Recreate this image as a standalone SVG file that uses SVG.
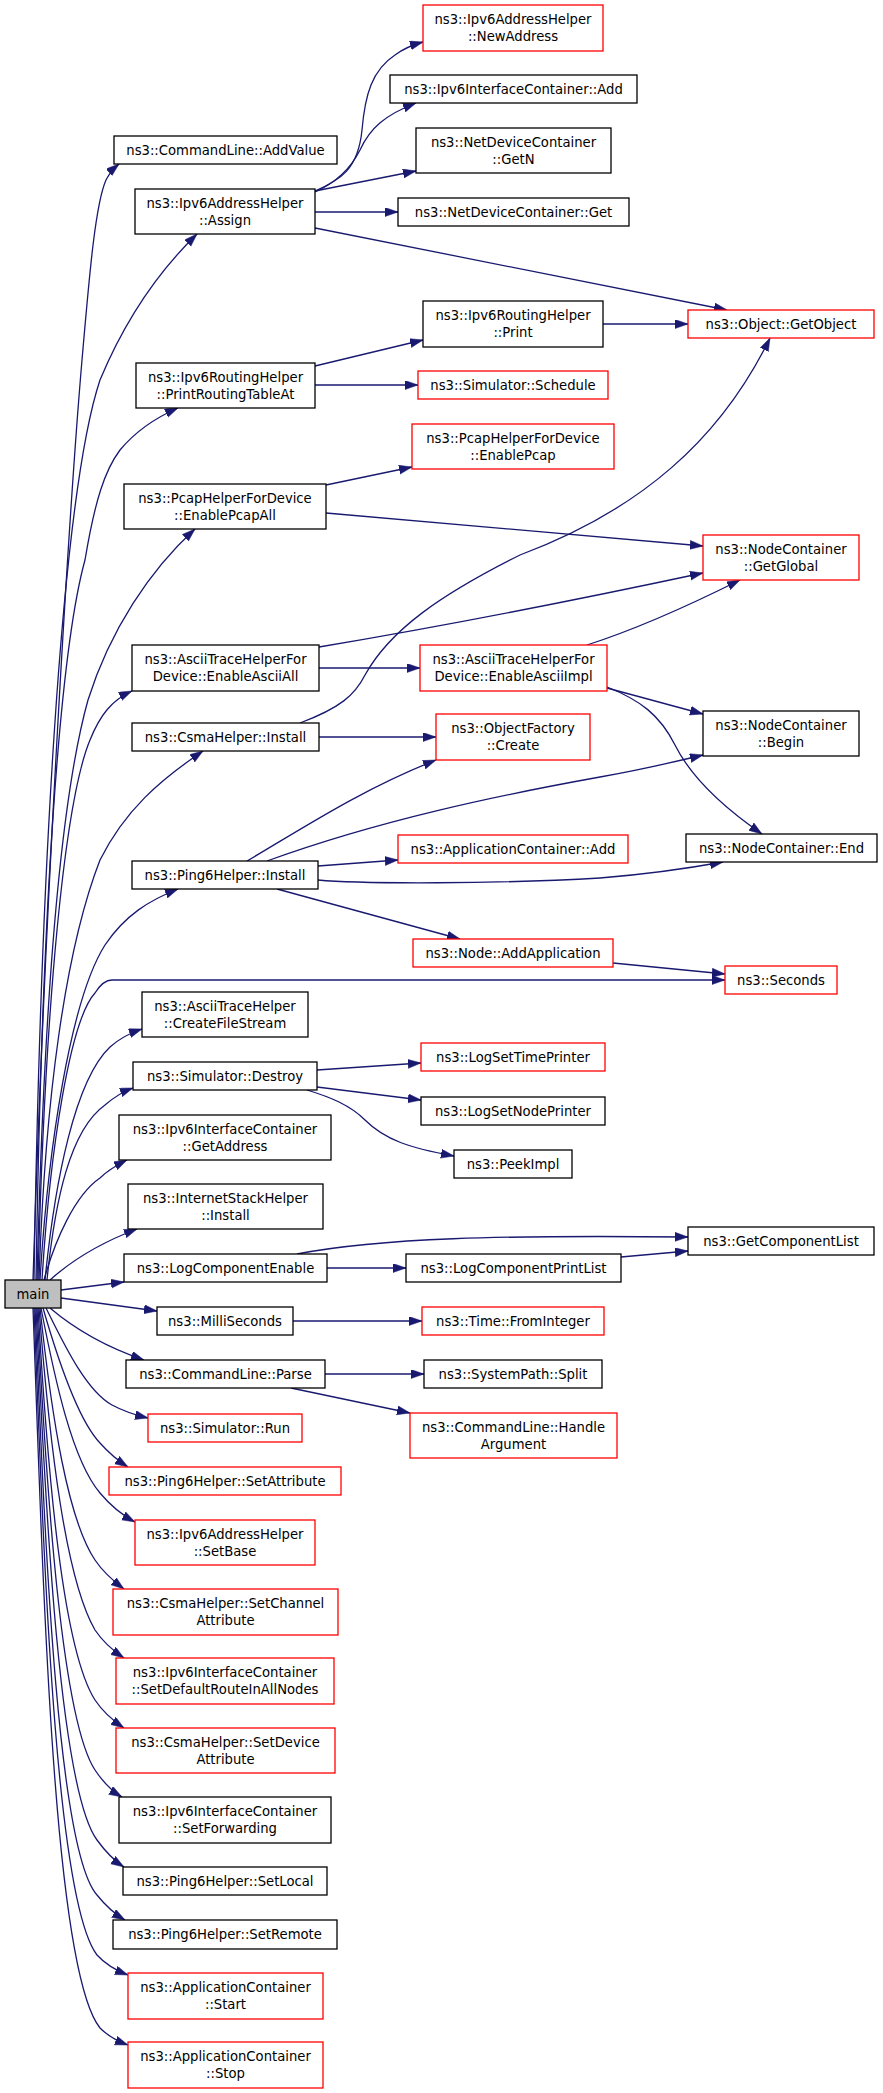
<svg xmlns="http://www.w3.org/2000/svg" width="883" height="2093" viewBox="0 0 883 2093">
<style>
.n rect{fill:#fff;stroke:#000;stroke-width:1.3}
.n.r rect{stroke:#ff0000}
.n.m rect{fill:#bfbfbf}
text{font-family:"DejaVu Sans","Liberation Sans",sans-serif;font-size:13.2px;text-anchor:middle;fill:#000}
#edges path{fill:none;stroke:#191970;stroke-width:1.3;marker-end:url(#ah)}
</style>
<defs>
<marker id="ah" markerUnits="userSpaceOnUse" markerWidth="14" markerHeight="10" refX="13" refY="4.5" orient="auto">
<path d="M0,0 L13,4.5 L0,9 z" fill="#191970" stroke="#191970" stroke-width="0.5"/>
</marker>
</defs>
<rect width="883" height="2093" fill="#fff"/>
<g id="edges">
<path d="M33,1280 C45,900 70,500 82,360 C89,280 95,205 106,180 C109,174 113,169 119,164"/>
<path d="M34,1280 C40,900 60,500 100,380 C125,320 160,270 197,234"/>
<path d="M36,1280 C42,900 60,650 85,560 C95,500 105,470 120,450 C135,432 155,418 178,408"/>
<path d="M37,1280 C44,1000 60,800 88,700 C110,630 150,570 195,529"/>
<path d="M38,1280 C45,1000 65,800 90,740 C100,715 112,700 132,691"/>
<path d="M39,1280 C45,1100 65,950 100,860 C125,810 160,780 203,751"/>
<path d="M40,1280 C48,1150 70,1000 105,945 C125,915 150,900 178,889"/>
<path d="M42,1280 C50,1150 70,1020 95,993 C100,985 105,980 112,980 L725,980"/>
<path d="M45,1280 C55,1180 75,1080 110,1047 C120,1038 130,1033 142,1029"/>
<path d="M47,1280 C55,1200 70,1130 105,1105 C113,1098 122,1092 133,1088"/>
<path d="M44,1280 C55,1240 75,1195 100,1178 C108,1170 117,1165 127,1160"/>
<path d="M50,1280 C70,1262 100,1243 137,1229"/>
<path d="M61,1290 L124,1282"/>
<path d="M61,1298 L157,1311"/>
<path d="M50,1308 C70,1325 100,1345 144,1360"/>
<path d="M46,1308 C62,1340 85,1390 112,1405 C125,1412 135,1415 148,1418"/>
<path d="M43,1308 C58,1360 78,1420 100,1443 C108,1452 117,1460 128,1467"/>
<path d="M41,1308 C55,1380 72,1460 100,1493 C110,1505 120,1514 135,1522"/>
<path d="M40,1308 C52,1420 68,1520 95,1560 C103,1572 112,1580 124,1589"/>
<path d="M39,1308 C50,1450 66,1580 95,1630 C103,1642 112,1650 124,1658"/>
<path d="M38,1308 C48,1480 63,1650 95,1700 C103,1712 112,1720 124,1728"/>
<path d="M37,1308 C47,1500 62,1720 95,1770 C103,1782 110,1790 122,1797"/>
<path d="M36,1308 C46,1520 60,1790 97,1840 C105,1851 113,1860 124,1867"/>
<path d="M35,1308 C45,1540 57,1850 97,1895 C105,1905 113,1913 125,1920"/>
<path d="M34,1308 C44,1560 55,1900 97,1955 C106,1965 115,1970 128,1975"/>
<path d="M33,1308 C43,1580 53,1970 100,2028 C108,2036 117,2041 128,2045"/>
<path d="M315,191 C340,180 358,170 362,130 C365,95 372,70 395,55 C403,49 412,45 423,42"/>
<path d="M315,192 C335,183 350,170 360,150 C370,128 385,115 416,103"/>
<path d="M315,191 L416,171"/>
<path d="M315,212 L398,212"/>
<path d="M315,228 L727,310"/>
<path d="M603,324 L688,324"/>
<path d="M315,366 L423,340"/>
<path d="M315,385 L418,385"/>
<path d="M326,485 L412,467"/>
<path d="M326,513 L703,546"/>
<path d="M319,647 C450,625 600,595 703,573"/>
<path d="M319,668 L420,668"/>
<path d="M587,645 C640,628 700,600 740,580"/>
<path d="M607,688 L703,714"/>
<path d="M607,687 C640,700 660,715 675,745 C690,775 720,805 762,834"/>
<path d="M300,723 C340,708 355,695 365,675 C390,630 440,595 520,555 C640,510 720,440 770,338"/>
<path d="M319,737 L436,737"/>
<path d="M247,861 C300,830 360,790 436,760"/>
<path d="M267,861 C380,820 500,795 600,777 C640,770 670,763 703,755"/>
<path d="M318,866 L398,860"/>
<path d="M318,880 C360,884 500,884 600,878 C650,874 690,868 723,862"/>
<path d="M277,889 L460,939"/>
<path d="M613,963 L725,974"/>
<path d="M317,1070 L421,1063"/>
<path d="M317,1087 L421,1100"/>
<path d="M307,1090 C330,1097 350,1105 365,1120 C385,1140 410,1148 454,1156"/>
<path d="M297,1254 C380,1238 500,1235 688,1237"/>
<path d="M327,1268 L406,1268"/>
<path d="M621,1257 L688,1251"/>
<path d="M293,1321 L422,1321"/>
<path d="M325,1374 L424,1374"/>
<path d="M291,1388 L410,1413"/>
</g>
<g id="main" class="n m"><rect x="5" y="1280" width="56" height="28"/><text x="33" y="1298.5">main</text></g>
<g id="addvalue" class="n"><rect x="114" y="136" width="223" height="28"/><text x="225.5" y="154.5">ns3::CommandLine::AddValue</text></g>
<g id="assign" class="n"><rect x="135" y="189" width="180" height="45"/><text x="225" y="207.5">ns3::Ipv6AddressHelper</text><text x="225" y="224.5">::Assign</text></g>
<g id="newaddress" class="n r"><rect x="423" y="5" width="180" height="46"/><text x="513" y="24">ns3::Ipv6AddressHelper</text><text x="513" y="41">::NewAddress</text></g>
<g id="ifadd" class="n"><rect x="390" y="75" width="247" height="28"/><text x="513.5" y="93.5">ns3::Ipv6InterfaceContainer::Add</text></g>
<g id="getn" class="n"><rect x="416" y="128" width="195" height="45"/><text x="513.5" y="146.5">ns3::NetDeviceContainer</text><text x="513.5" y="163.5">::GetN</text></g>
<g id="get" class="n"><rect x="398" y="198" width="231" height="28"/><text x="513.5" y="216.5">ns3::NetDeviceContainer::Get</text></g>
<g id="print" class="n"><rect x="423" y="301" width="180" height="46"/><text x="513" y="320">ns3::Ipv6RoutingHelper</text><text x="513" y="337">::Print</text></g>
<g id="getobject" class="n r"><rect x="688" y="310" width="186" height="28"/><text x="781" y="328.5">ns3::Object::GetObject</text></g>
<g id="printrt" class="n"><rect x="136" y="363" width="179" height="45"/><text x="225.5" y="381.5">ns3::Ipv6RoutingHelper</text><text x="225.5" y="398.5">::PrintRoutingTableAt</text></g>
<g id="schedule" class="n r"><rect x="418" y="371" width="190" height="28"/><text x="513" y="389.5">ns3::Simulator::Schedule</text></g>
<g id="enablepcap" class="n r"><rect x="412" y="424" width="202" height="45"/><text x="513" y="442.5">ns3::PcapHelperForDevice</text><text x="513" y="459.5">::EnablePcap</text></g>
<g id="enablepcapall" class="n"><rect x="124" y="484" width="202" height="45"/><text x="225" y="502.5">ns3::PcapHelperForDevice</text><text x="225" y="519.5">::EnablePcapAll</text></g>
<g id="getglobal" class="n r"><rect x="703" y="535" width="156" height="45"/><text x="781" y="553.5">ns3::NodeContainer</text><text x="781" y="570.5">::GetGlobal</text></g>
<g id="asciiall" class="n"><rect x="132" y="645" width="187" height="46"/><text x="225.5" y="664">ns3::AsciiTraceHelperFor</text><text x="225.5" y="681">Device::EnableAsciiAll</text></g>
<g id="asciiimpl" class="n r"><rect x="420" y="645" width="187" height="46"/><text x="513.5" y="664">ns3::AsciiTraceHelperFor</text><text x="513.5" y="681">Device::EnableAsciiImpl</text></g>
<g id="csmainstall" class="n"><rect x="132" y="723" width="187" height="28"/><text x="225.5" y="741.5">ns3::CsmaHelper::Install</text></g>
<g id="create" class="n r"><rect x="436" y="714" width="154" height="46"/><text x="513" y="733">ns3::ObjectFactory</text><text x="513" y="750">::Create</text></g>
<g id="begin" class="n"><rect x="703" y="711" width="156" height="45"/><text x="781" y="729.5">ns3::NodeContainer</text><text x="781" y="746.5">::Begin</text></g>
<g id="ping6install" class="n"><rect x="132" y="861" width="186" height="28"/><text x="225" y="879.5">ns3::Ping6Helper::Install</text></g>
<g id="appadd" class="n r"><rect x="398" y="835" width="230" height="28"/><text x="513" y="853.5">ns3::ApplicationContainer::Add</text></g>
<g id="end" class="n"><rect x="686" y="834" width="191" height="28"/><text x="781.5" y="852.5">ns3::NodeContainer::End</text></g>
<g id="addapp" class="n r"><rect x="413" y="939" width="200" height="28"/><text x="513" y="957.5">ns3::Node::AddApplication</text></g>
<g id="seconds" class="n r"><rect x="725" y="966" width="112" height="28"/><text x="781" y="984.5">ns3::Seconds</text></g>
<g id="createfilestream" class="n"><rect x="142" y="992" width="166" height="45"/><text x="225" y="1010.5">ns3::AsciiTraceHelper</text><text x="225" y="1027.5">::CreateFileStream</text></g>
<g id="destroy" class="n"><rect x="133" y="1062" width="184" height="28"/><text x="225" y="1080.5">ns3::Simulator::Destroy</text></g>
<g id="timeprinter" class="n r"><rect x="421" y="1043" width="184" height="28"/><text x="513" y="1061.5">ns3::LogSetTimePrinter</text></g>
<g id="nodeprinter" class="n"><rect x="421" y="1097" width="184" height="28"/><text x="513" y="1115.5">ns3::LogSetNodePrinter</text></g>
<g id="peekimpl" class="n"><rect x="454" y="1150" width="118" height="28"/><text x="513" y="1168.5">ns3::PeekImpl</text></g>
<g id="getaddress" class="n"><rect x="119" y="1115" width="212" height="45"/><text x="225" y="1133.5">ns3::Ipv6InterfaceContainer</text><text x="225" y="1150.5">::GetAddress</text></g>
<g id="internetstack" class="n"><rect x="128" y="1184" width="195" height="45"/><text x="225.5" y="1202.5">ns3::InternetStackHelper</text><text x="225.5" y="1219.5">::Install</text></g>
<g id="logenable" class="n"><rect x="124" y="1254" width="203" height="28"/><text x="225.5" y="1272.5">ns3::LogComponentEnable</text></g>
<g id="logprintlist" class="n"><rect x="406" y="1254" width="215" height="28"/><text x="513.5" y="1272.5">ns3::LogComponentPrintList</text></g>
<g id="getcomplist" class="n"><rect x="688" y="1227" width="186" height="28"/><text x="781" y="1245.5">ns3::GetComponentList</text></g>
<g id="milliseconds" class="n"><rect x="157" y="1307" width="136" height="28"/><text x="225" y="1325.5">ns3::MilliSeconds</text></g>
<g id="frominteger" class="n r"><rect x="422" y="1307" width="182" height="28"/><text x="513" y="1325.5">ns3::Time::FromInteger</text></g>
<g id="parse" class="n"><rect x="126" y="1360" width="199" height="28"/><text x="225.5" y="1378.5">ns3::CommandLine::Parse</text></g>
<g id="split" class="n"><rect x="424" y="1360" width="178" height="28"/><text x="513" y="1378.5">ns3::SystemPath::Split</text></g>
<g id="handlearg" class="n r"><rect x="410" y="1413" width="207" height="45"/><text x="513.5" y="1431.5">ns3::CommandLine::Handle</text><text x="513.5" y="1448.5">Argument</text></g>
<g id="run" class="n r"><rect x="148" y="1414" width="154" height="28"/><text x="225" y="1432.5">ns3::Simulator::Run</text></g>
<g id="setattribute" class="n r"><rect x="109" y="1467" width="232" height="28"/><text x="225" y="1485.5">ns3::Ping6Helper::SetAttribute</text></g>
<g id="setbase" class="n r"><rect x="135" y="1520" width="180" height="45"/><text x="225" y="1538.5">ns3::Ipv6AddressHelper</text><text x="225" y="1555.5">::SetBase</text></g>
<g id="setchannelattr" class="n r"><rect x="113" y="1589" width="225" height="46"/><text x="225.5" y="1608">ns3::CsmaHelper::SetChannel</text><text x="225.5" y="1625">Attribute</text></g>
<g id="setdefaultroute" class="n r"><rect x="116" y="1658" width="218" height="46"/><text x="225" y="1677">ns3::Ipv6InterfaceContainer</text><text x="225" y="1694">::SetDefaultRouteInAllNodes</text></g>
<g id="setdeviceattr" class="n r"><rect x="116" y="1728" width="219" height="45"/><text x="225.5" y="1746.5">ns3::CsmaHelper::SetDevice</text><text x="225.5" y="1763.5">Attribute</text></g>
<g id="setforwarding" class="n"><rect x="119" y="1797" width="212" height="46"/><text x="225" y="1816">ns3::Ipv6InterfaceContainer</text><text x="225" y="1833">::SetForwarding</text></g>
<g id="setlocal" class="n"><rect x="123" y="1867" width="204" height="28"/><text x="225" y="1885.5">ns3::Ping6Helper::SetLocal</text></g>
<g id="setremote" class="n"><rect x="113" y="1920" width="224" height="29"/><text x="225" y="1939">ns3::Ping6Helper::SetRemote</text></g>
<g id="appstart" class="n r"><rect x="128" y="1973" width="195" height="46"/><text x="225.5" y="1992">ns3::ApplicationContainer</text><text x="225.5" y="2009">::Start</text></g>
<g id="appstop" class="n r"><rect x="128" y="2042" width="195" height="46"/><text x="225.5" y="2061">ns3::ApplicationContainer</text><text x="225.5" y="2078">::Stop</text></g>
</svg>
